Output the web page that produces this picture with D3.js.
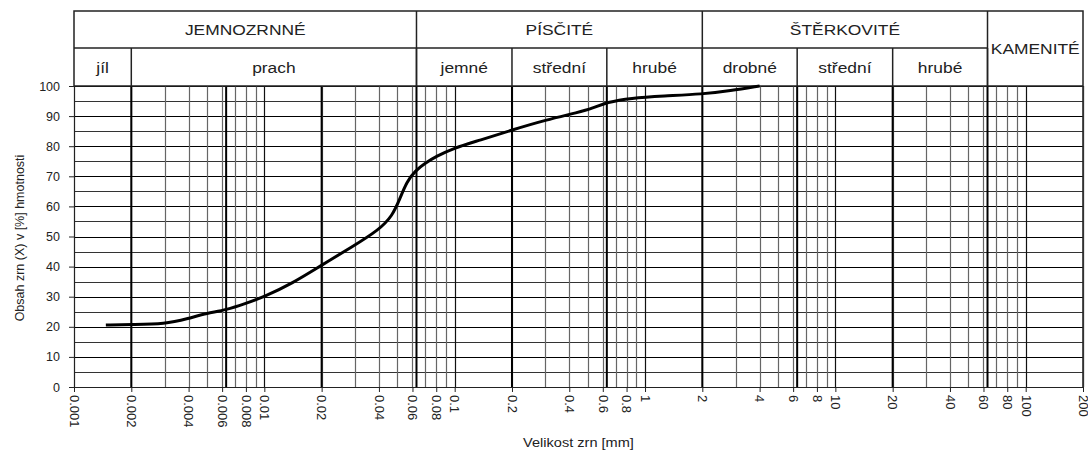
<!DOCTYPE html>
<html>
<head>
<meta charset="utf-8">
<script src="https://cdn.jsdelivr.net/npm/d3@7"></script>
<style>
body { margin: 0; background: #fff; }
text { font-family: "Liberation Sans", Arial, sans-serif; fill: #222; }
</style>
</head>
<body>
<div id="chart"></div>
<script>
// grain size curve (mm, % passing)
var grainSize = [0.00147, 0.002, 0.003, 0.004, 0.005, 0.0063, 0.008, 0.01, 0.014, 0.02, 0.029, 0.04, 0.047, 0.0515, 0.056, 0.062, 0.07, 0.08, 0.098, 0.136, 0.2, 0.3, 0.45, 0.53, 0.63, 0.84, 1.25, 2, 2.8, 4.0];
var passing   = [20.6, 20.8, 20.9, 22.8, 24.5, 25.6, 27.8, 30, 34.4, 40.5, 46.6, 52.2, 56.8, 62.5, 68.2, 71.8, 74.4, 76.6, 79.3, 82, 85.4, 88.7, 91.3, 92.6, 94.6, 96, 96.7, 97.3, 98.4, 100];

var xTickLabels = [0.001, 0.002, 0.004, 0.006, 0.008, 0.01, 0.02, 0.04, 0.06, 0.08, 0.1, 0.2, 0.4, 0.6, 0.8, 1, 2, 4, 6, 8, 10, 20, 40, 60, 80, 100, 200];
var yTicks = [0, 10, 20, 30, 40, 50, 60, 70, 80, 90, 100];

// class boundaries
var boundaries = [0.002, 0.0063, 0.02, 0.063, 0.2, 0.63, 2, 6.3, 20, 63];
var groupNames = ["JEMNOZRNNÉ", "PÍSČITÉ", "ŠTĚRKOVITÉ", "KAMENITÉ"];
var groupFrom  = [0.001, 0.063, 2, 63];
var groupTo    = [0.063, 2, 63, 200];
var subNames = ["jíl", "prach", "jemné", "střední", "hrubé", "drobné", "střední", "hrubé"];
var subFrom  = [0.001, 0.002, 0.063, 0.2, 0.63, 2, 6.3, 20];
var subTo    = [0.002, 0.063, 0.2, 0.63, 2, 6.3, 20, 63];

var w = 1088, h = 453;
var plotLeft = 74, plotRight = 1083, plotTop = 86, plotBottom = 387;
var headTop = 11, headMid = 48;

var svg = d3.select("#chart").append("svg")
    .attr("width", w)
    .attr("height", h);

var x = d3.scaleLog().domain([0.001, 200]).range([plotLeft, plotRight]);
var y = d3.scaleLinear().domain([0, 100]).range([plotBottom, plotTop]);

// vertical grid: every 1..9 of each decade
var gridX = [];
[0.001, 0.01, 0.1, 1, 10, 100].forEach(function(dec) {
  for (var k = 1; k <= 9; k++) {
    var v = +(dec * k).toPrecision(3);
    if (v <= 200) gridX.push(v);
  }
});
gridX.push(200);

var grid = svg.append("g");

// horizontal grid every 5 %
grid.selectAll("line.h")
    .data(d3.range(0, 101, 5))
    .enter()
    .append("line")
    .attr("x1", plotLeft)
    .attr("x2", plotRight)
    .attr("y1", function(d) { return Math.round(y(d)) + 0.5; })
    .attr("y2", function(d) { return Math.round(y(d)) + 0.5; })
    .attr("stroke", function(d) { return d % 10 == 0 ? "#000" : "#333"; })
    .attr("stroke-width", 1);

grid.selectAll("line.v")
    .data(gridX)
    .enter()
    .append("line")
    .attr("x1", function(d) { return Math.round(x(d)) + 0.5; })
    .attr("x2", function(d) { return Math.round(x(d)) + 0.5; })
    .attr("y1", plotTop)
    .attr("y2", plotBottom)
    .attr("stroke", function(d) {
      var l = Math.log10(d);
      return Math.abs(l - Math.round(l)) < 1e-6 ? "#111" : "#666";
    })
    .attr("stroke-width", 1.2);

grid.selectAll("line.b")
    .data(boundaries)
    .enter()
    .append("line")
    .attr("x1", function(d) { return x(d); })
    .attr("x2", function(d) { return x(d); })
    .attr("y1", plotTop)
    .attr("y2", plotBottom)
    .attr("stroke", "#000")
    .attr("stroke-width", 2);

// header table
var head = svg.append("g");
head.append("rect")
    .attr("x", plotLeft)
    .attr("y", headTop)
    .attr("width", plotRight - plotLeft)
    .attr("height", plotTop - headTop)
    .attr("fill", "#fff")
    .attr("stroke", "#222")
    .attr("stroke-width", 1.5);

head.append("line")
    .attr("x1", plotLeft).attr("x2", x(63))
    .attr("y1", headMid).attr("y2", headMid)
    .attr("stroke", "#222").attr("stroke-width", 1.5);

head.selectAll("line.g")
    .data(groupTo.slice(0, 3))
    .enter()
    .append("line")
    .attr("x1", function(d) { return x(d); })
    .attr("x2", function(d) { return x(d); })
    .attr("y1", headTop).attr("y2", plotTop)
    .attr("stroke", "#222").attr("stroke-width", 1.5);

head.selectAll("line.s")
    .data(subTo)
    .enter()
    .append("line")
    .attr("x1", function(d) { return x(d); })
    .attr("x2", function(d) { return x(d); })
    .attr("y1", headMid).attr("y2", plotTop)
    .attr("stroke", "#222").attr("stroke-width", 1.5);

head.selectAll("text.g")
    .data(groupNames)
    .enter()
    .append("text")
    .text(function(d) { return d; })
    .attr("text-anchor", "middle")
    .attr("font-size", "14.5px")
    .attr("transform", function(d, i) {
      var cx = (x(groupFrom[i]) + x(groupTo[i])) / 2;
      var cy = i == 3 ? 54 : 35;
      return "translate(" + cx + "," + cy + ") scale(1.2,1)";
    });

head.selectAll("text.s")
    .data(subNames)
    .enter()
    .append("text")
    .text(function(d) { return d; })
    .attr("text-anchor", "middle")
    .attr("font-size", "14.5px")
    .attr("transform", function(d, i) {
      var cx = (x(subFrom[i]) + x(subTo[i])) / 2;
      return "translate(" + cx + ",73) scale(1.2,1)";
    });

// axes
var yAxis = svg.append("g")
    .attr("transform", "translate(" + plotLeft + ",0)")
    .call(d3.axisLeft(y).tickValues(yTicks).tickSize(5).tickPadding(9));
yAxis.select(".domain").attr("stroke", "#222");
yAxis.selectAll(".tick line").attr("stroke", "#222");
yAxis.selectAll("text").attr("font-size", "12.5px").attr("font-family", null).attr("fill", "#222");

var xAxis = svg.append("g")
    .attr("transform", "translate(0," + plotBottom + ")")
    .call(d3.axisBottom(x).tickValues(xTickLabels).tickSize(5).tickFormat(function(d) { return String(d); }));
xAxis.select(".domain").attr("stroke", "#222");
xAxis.selectAll(".tick line").attr("stroke", "#222");
xAxis.selectAll("text")
    .attr("font-size", "13px")
    .attr("font-family", null)
    .attr("fill", "#222")
    .attr("text-anchor", "start")
    .attr("dy", "0.36em")
    .attr("transform", "translate(0,8) rotate(90)")
    .attr("x", 0)
    .attr("y", 0);

// right border
svg.append("line")
    .attr("x1", plotRight).attr("x2", plotRight)
    .attr("y1", plotTop).attr("y2", plotBottom)
    .attr("stroke", "#222").attr("stroke-width", 1.5);

svg.append("text")
    .text("Velikost zrn [mm]")
    .attr("text-anchor", "middle")
    .attr("font-size", "13px")
    .attr("transform", "translate(" + ((plotLeft + plotRight) / 2) + ",447) scale(1.12,1)");

svg.append("text")
    .text("Obsah zrn (X) v [%] hmotnosti")
    .attr("text-anchor", "middle")
    .attr("font-size", "12.5px")
    .attr("transform", "translate(24,238) rotate(-90)");

// curve
var line = d3.line()
    .x(function(d, i) { return x(grainSize[i]); })
    .y(function(d) { return y(d); })
    .curve(d3.curveBasis);

svg.append("path")
    .attr("d", line(passing))
    .attr("fill", "none")
    .attr("stroke", "#000")
    .attr("stroke-width", 3);
</script>
</body>
</html>
